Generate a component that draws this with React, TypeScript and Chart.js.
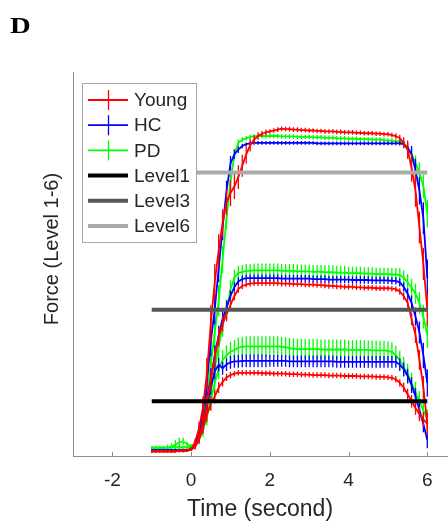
import React, { useEffect, useRef } from "react";
import { Chart, registerables } from "chart.js";

Chart.register(...registerables);

// ---------- data ----------
const TIME = [
  -1.0, -0.9, -0.8, -0.7, -0.6, -0.5, -0.4, -0.3, -0.2, -0.1,
  0.0, 0.1, 0.2, 0.3, 0.4, 0.5, 0.6, 0.7, 0.8, 0.9,
  1.0, 1.1, 1.2, 1.3, 1.4, 1.5, 1.6, 1.7, 1.8, 1.9,
  2.0, 2.1, 2.2, 2.3, 2.4, 2.5, 2.6, 2.7, 2.8, 2.9,
  3.0, 3.1, 3.2, 3.3, 3.4, 3.5, 3.6, 3.7, 3.8, 3.9,
  4.0, 4.1, 4.2, 4.3, 4.4, 4.5, 4.6, 4.7, 4.8, 4.9,
  5.0, 5.1, 5.2, 5.3, 5.4, 5.5, 5.6, 5.7, 5.8, 5.9,
  6.0,
];

const X_TICKS = [-2, 0, 2, 4, 6];
const GROUP_NAMES = ["Young", "HC", "PD"];
const GROUP_COLORS = ["#ff0000", "#0000ff", "#00ff00"];
const LEVEL_NAMES = ["Level1", "Level3", "Level6"];
const LEVEL_VALUES = [1, 3, 6];
const LEVEL_COLORS = ["#000000", "#555555", "#aaaaaa"];
const LEVEL_SPAN = [-1, 6];

// Level 6
const YOUNG_L6 = [
  -0.10, -0.10, -0.10, -0.10, -0.10, -0.10, -0.10, -0.09, -0.09, -0.08,
  -0.05, 0.10, 0.40, 0.85, 1.60, 2.70, 3.60, 4.30, 4.90, 5.35,
  5.55, 5.70, 5.90, 6.15, 6.40, 6.60, 6.72, 6.80, 6.85, 6.88,
  6.90, 6.92, 6.94, 6.96, 6.95, 6.95, 6.94, 6.94, 6.93, 6.93,
  6.92, 6.92, 6.91, 6.91, 6.90, 6.90, 6.90, 6.89, 6.89, 6.88,
  6.88, 6.88, 6.87, 6.87, 6.86, 6.86, 6.86, 6.85, 6.85, 6.84,
  6.84, 6.82, 6.80, 6.75, 6.65, 6.50, 6.10, 5.60, 4.80, 4.00,
  3.00,
];
const YOUNG_L6_ERR = [
  0.03, 0.03, 0.03, 0.03, 0.03, 0.03, 0.03, 0.03, 0.03, 0.03,
  0.03, 0.08, 0.15, 0.25, 0.35, 0.40, 0.40, 0.35, 0.30, 0.28,
  0.28, 0.28, 0.26, 0.24, 0.20, 0.14, 0.10, 0.08, 0.06, 0.06,
  0.05, 0.05, 0.05, 0.05, 0.05, 0.05, 0.05, 0.05, 0.05, 0.05,
  0.05, 0.05, 0.05, 0.05, 0.05, 0.05, 0.05, 0.05, 0.05, 0.05,
  0.05, 0.05, 0.05, 0.05, 0.05, 0.05, 0.05, 0.05, 0.05, 0.05,
  0.05, 0.05, 0.06, 0.08, 0.12, 0.20, 0.30, 0.35, 0.35, 0.35,
  0.35,
];
const HC_L6 = [
  -0.08, -0.08, -0.08, -0.08, -0.08, -0.08, -0.08, -0.08, -0.07, -0.07,
  -0.05, 0.05, 0.30, 0.75, 1.40, 2.30, 3.00, 3.90, 4.80, 5.60,
  6.20, 6.40, 6.50, 6.58, 6.62, 6.64, 6.65, 6.65, 6.65, 6.65,
  6.65, 6.65, 6.65, 6.65, 6.65, 6.65, 6.65, 6.65, 6.65, 6.65,
  6.65, 6.65, 6.64, 6.64, 6.64, 6.64, 6.64, 6.64, 6.64, 6.64,
  6.64, 6.64, 6.64, 6.64, 6.64, 6.64, 6.64, 6.64, 6.64, 6.64,
  6.64, 6.64, 6.64, 6.64, 6.62, 6.55, 6.40, 6.05, 5.60, 5.00,
  3.70,
];
const HC_L6_ERR = [
  0.02, 0.02, 0.02, 0.02, 0.02, 0.02, 0.02, 0.02, 0.02, 0.02,
  0.03, 0.06, 0.12, 0.20, 0.28, 0.32, 0.32, 0.30, 0.28, 0.22,
  0.16, 0.10, 0.07, 0.05, 0.04, 0.04, 0.04, 0.04, 0.04, 0.04,
  0.04, 0.04, 0.04, 0.04, 0.04, 0.04, 0.04, 0.04, 0.04, 0.04,
  0.04, 0.04, 0.04, 0.04, 0.04, 0.04, 0.04, 0.04, 0.04, 0.04,
  0.04, 0.04, 0.04, 0.04, 0.04, 0.04, 0.04, 0.04, 0.04, 0.04,
  0.04, 0.04, 0.04, 0.05, 0.06, 0.10, 0.18, 0.25, 0.30, 0.35,
  0.40,
];
const PD_L6 = [
  -0.02, -0.02, -0.02, -0.02, -0.02, -0.01, -0.01, -0.01, -0.01, -0.01,
  0.00, 0.05, 0.25, 0.60, 1.10, 1.80, 2.50, 3.20, 4.10, 5.00,
  5.80, 6.40, 6.65, 6.72, 6.75, 6.78, 6.79, 6.80, 6.80, 6.80,
  6.80, 6.80, 6.80, 6.79, 6.79, 6.79, 6.79, 6.78, 6.78, 6.78,
  6.78, 6.77, 6.77, 6.77, 6.76, 6.76, 6.76, 6.75, 6.75, 6.75,
  6.74, 6.74, 6.74, 6.73, 6.73, 6.73, 6.72, 6.72, 6.72, 6.71,
  6.70, 6.70, 6.69, 6.68, 6.62, 6.50, 6.40, 6.20, 6.00, 5.70,
  5.10,
];
const PD_L6_ERR = [
  0.03, 0.03, 0.03, 0.03, 0.03, 0.03, 0.03, 0.03, 0.03, 0.03,
  0.03, 0.06, 0.12, 0.20, 0.28, 0.32, 0.34, 0.34, 0.30, 0.25,
  0.20, 0.12, 0.08, 0.06, 0.05, 0.05, 0.05, 0.05, 0.05, 0.05,
  0.05, 0.05, 0.05, 0.05, 0.05, 0.05, 0.05, 0.05, 0.05, 0.05,
  0.05, 0.05, 0.05, 0.05, 0.05, 0.05, 0.05, 0.05, 0.05, 0.05,
  0.05, 0.05, 0.05, 0.05, 0.05, 0.05, 0.05, 0.05, 0.05, 0.05,
  0.05, 0.05, 0.05, 0.06, 0.08, 0.10, 0.14, 0.18, 0.22, 0.25,
  0.30,
];

// Level 3
const YOUNG_L3 = [
  -0.10, -0.10, -0.10, -0.10, -0.10, -0.10, -0.10, -0.09, -0.09, -0.08,
  -0.06, 0.00, 0.20, 0.50, 0.95, 1.45, 1.95, 2.40, 2.70, 2.90,
  3.10, 3.30, 3.45, 3.52, 3.55, 3.57, 3.58, 3.58, 3.58, 3.58,
  3.58, 3.58, 3.58, 3.57, 3.57, 3.57, 3.56, 3.56, 3.56, 3.55,
  3.55, 3.55, 3.54, 3.54, 3.53, 3.52, 3.52, 3.51, 3.51, 3.50,
  3.50, 3.50, 3.49, 3.49, 3.48, 3.48, 3.48, 3.47, 3.47, 3.47,
  3.47, 3.46, 3.45, 3.40, 3.30, 3.15, 2.80, 2.45, 1.90, 1.30,
  0.50,
];
const YOUNG_L3_ERR = [
  0.03, 0.03, 0.03, 0.03, 0.03, 0.03, 0.03, 0.03, 0.03, 0.03,
  0.03, 0.05, 0.10, 0.15, 0.20, 0.22, 0.22, 0.20, 0.18, 0.15,
  0.12, 0.10, 0.08, 0.07, 0.06, 0.06, 0.06, 0.06, 0.06, 0.06,
  0.06, 0.06, 0.06, 0.06, 0.06, 0.06, 0.06, 0.06, 0.06, 0.06,
  0.06, 0.06, 0.06, 0.06, 0.06, 0.06, 0.06, 0.06, 0.06, 0.06,
  0.06, 0.06, 0.06, 0.06, 0.06, 0.06, 0.06, 0.06, 0.06, 0.06,
  0.06, 0.06, 0.06, 0.07, 0.08, 0.10, 0.14, 0.18, 0.22, 0.25,
  0.25,
];
const HC_L3 = [
  -0.08, -0.08, -0.08, -0.08, -0.08, -0.08, -0.08, -0.08, -0.07, -0.07,
  -0.05, 0.02, 0.20, 0.50, 1.00, 1.50, 2.00, 2.45, 2.80, 3.05,
  3.30, 3.50, 3.62, 3.67, 3.69, 3.69, 3.69, 3.69, 3.69, 3.69,
  3.69, 3.69, 3.69, 3.68, 3.68, 3.68, 3.68, 3.68, 3.68, 3.68,
  3.68, 3.67, 3.67, 3.67, 3.67, 3.66, 3.66, 3.66, 3.66, 3.66,
  3.66, 3.65, 3.65, 3.65, 3.65, 3.65, 3.64, 3.64, 3.64, 3.64,
  3.64, 3.63, 3.63, 3.60, 3.50, 3.35, 3.15, 2.85, 2.50, 2.00,
  1.40,
];
const HC_L3_ERR = [
  0.02, 0.02, 0.02, 0.02, 0.02, 0.02, 0.02, 0.02, 0.02, 0.02,
  0.03, 0.05, 0.10, 0.15, 0.20, 0.22, 0.22, 0.20, 0.18, 0.15,
  0.12, 0.10, 0.09, 0.08, 0.08, 0.08, 0.08, 0.08, 0.08, 0.08,
  0.08, 0.08, 0.08, 0.08, 0.08, 0.08, 0.08, 0.08, 0.08, 0.08,
  0.08, 0.08, 0.08, 0.08, 0.08, 0.08, 0.08, 0.08, 0.08, 0.08,
  0.08, 0.08, 0.08, 0.08, 0.08, 0.08, 0.08, 0.08, 0.08, 0.08,
  0.08, 0.08, 0.08, 0.09, 0.10, 0.12, 0.16, 0.20, 0.24, 0.28,
  0.30,
];
const PD_L3 = [
  -0.02, -0.02, -0.02, -0.02, -0.02, -0.01, -0.01, -0.01, -0.01, -0.01,
  0.00, 0.05, 0.20, 0.45, 0.80, 1.20, 1.70, 2.20, 2.65, 3.00,
  3.45, 3.70, 3.80, 3.83, 3.85, 3.85, 3.86, 3.86, 3.86, 3.86,
  3.86, 3.86, 3.86, 3.85, 3.85, 3.85, 3.85, 3.84, 3.84, 3.84,
  3.84, 3.83, 3.83, 3.83, 3.82, 3.82, 3.82, 3.81, 3.81, 3.81,
  3.80, 3.80, 3.80, 3.80, 3.79, 3.79, 3.79, 3.78, 3.78, 3.78,
  3.78, 3.77, 3.77, 3.76, 3.70, 3.60, 3.48, 3.35, 3.15, 2.85,
  2.45,
];
const PD_L3_ERR = [
  0.03, 0.03, 0.03, 0.03, 0.03, 0.03, 0.03, 0.03, 0.03, 0.03,
  0.03, 0.05, 0.10, 0.15, 0.20, 0.24, 0.26, 0.26, 0.24, 0.22,
  0.20, 0.18, 0.16, 0.15, 0.15, 0.15, 0.15, 0.15, 0.15, 0.15,
  0.15, 0.15, 0.15, 0.15, 0.15, 0.15, 0.15, 0.15, 0.15, 0.15,
  0.15, 0.15, 0.15, 0.15, 0.15, 0.15, 0.15, 0.15, 0.15, 0.15,
  0.14, 0.14, 0.14, 0.14, 0.14, 0.14, 0.14, 0.14, 0.14, 0.14,
  0.14, 0.14, 0.14, 0.15, 0.16, 0.18, 0.20, 0.22, 0.24, 0.26,
  0.28,
];

// Level 1
const YOUNG_L1 = [
  -0.10, -0.10, -0.10, -0.10, -0.10, -0.10, -0.10, -0.09, -0.09, -0.08,
  -0.06, 0.00, 0.15, 0.40, 0.70, 0.95, 1.10, 1.30, 1.42, 1.52,
  1.57, 1.60, 1.62, 1.62, 1.62, 1.62, 1.62, 1.62, 1.61, 1.61,
  1.61, 1.60, 1.60, 1.60, 1.60, 1.59, 1.59, 1.59, 1.58, 1.58,
  1.58, 1.57, 1.57, 1.57, 1.57, 1.56, 1.56, 1.56, 1.56, 1.55,
  1.55, 1.55, 1.55, 1.54, 1.54, 1.54, 1.54, 1.53, 1.53, 1.53,
  1.52, 1.51, 1.48, 1.40, 1.30, 1.15, 1.00, 0.85, 0.72, 0.60,
  0.50,
];
const YOUNG_L1_ERR = [
  0.03, 0.03, 0.03, 0.03, 0.03, 0.03, 0.03, 0.03, 0.03, 0.03,
  0.03, 0.05, 0.08, 0.12, 0.15, 0.16, 0.15, 0.12, 0.10, 0.08,
  0.07, 0.06, 0.06, 0.06, 0.06, 0.06, 0.06, 0.06, 0.06, 0.06,
  0.06, 0.06, 0.06, 0.06, 0.06, 0.06, 0.06, 0.06, 0.06, 0.06,
  0.06, 0.06, 0.06, 0.06, 0.06, 0.06, 0.06, 0.06, 0.06, 0.06,
  0.06, 0.06, 0.06, 0.06, 0.06, 0.06, 0.06, 0.06, 0.06, 0.06,
  0.06, 0.06, 0.07, 0.08, 0.10, 0.12, 0.14, 0.15, 0.16, 0.16,
  0.16,
];
const HC_L1 = [
  -0.08, -0.08, -0.08, -0.08, -0.08, -0.08, -0.08, -0.08, -0.07, -0.07,
  -0.05, 0.02, 0.20, 0.50, 0.90, 1.30, 1.65, 1.80, 1.72, 1.80,
  1.85, 1.87, 1.87, 1.88, 1.88, 1.88, 1.88, 1.88, 1.88, 1.88,
  1.88, 1.88, 1.88, 1.88, 1.88, 1.87, 1.87, 1.87, 1.87, 1.87,
  1.87, 1.87, 1.87, 1.87, 1.87, 1.87, 1.87, 1.86, 1.86, 1.86,
  1.86, 1.86, 1.86, 1.86, 1.86, 1.86, 1.86, 1.86, 1.86, 1.86,
  1.86, 1.86, 1.86, 1.80, 1.70, 1.55, 1.35, 1.10, 0.80, 0.50,
  0.15,
];
const HC_L1_ERR = [
  0.02, 0.02, 0.02, 0.02, 0.02, 0.02, 0.02, 0.02, 0.02, 0.02,
  0.03, 0.05, 0.08, 0.12, 0.15, 0.16, 0.16, 0.15, 0.14, 0.14,
  0.14, 0.14, 0.14, 0.14, 0.14, 0.14, 0.14, 0.14, 0.14, 0.14,
  0.13, 0.13, 0.13, 0.13, 0.13, 0.13, 0.13, 0.13, 0.13, 0.13,
  0.13, 0.13, 0.13, 0.13, 0.13, 0.13, 0.13, 0.13, 0.13, 0.13,
  0.13, 0.13, 0.13, 0.13, 0.13, 0.13, 0.13, 0.13, 0.13, 0.13,
  0.13, 0.13, 0.13, 0.14, 0.15, 0.16, 0.17, 0.18, 0.18, 0.18,
  0.18,
];
const PD_L1 = [
  -0.02, -0.02, -0.02, -0.02, -0.01, 0.00, 0.05, 0.10, 0.12, 0.06,
  0.02, 0.05, 0.15, 0.35, 0.65, 1.00, 1.40, 1.70, 1.90, 2.00,
  2.08, 2.12, 2.17, 2.19, 2.20, 2.20, 2.20, 2.20, 2.20, 2.20,
  2.20, 2.20, 2.20, 2.19, 2.18, 2.16, 2.15, 2.14, 2.14, 2.14,
  2.14, 2.14, 2.14, 2.13, 2.13, 2.13, 2.13, 2.13, 2.13, 2.13,
  2.12, 2.12, 2.12, 2.12, 2.12, 2.12, 2.11, 2.11, 2.11, 2.11,
  2.10, 2.08, 2.00, 1.90, 1.75, 1.60, 1.40, 1.20, 1.00, 0.80,
  0.60,
];
const PD_L1_ERR = [
  0.03, 0.03, 0.03, 0.04, 0.06, 0.08, 0.10, 0.10, 0.08, 0.05,
  0.04, 0.06, 0.10, 0.14, 0.18, 0.20, 0.22, 0.22, 0.22, 0.22,
  0.22, 0.22, 0.22, 0.22, 0.22, 0.22, 0.22, 0.22, 0.22, 0.22,
  0.22, 0.22, 0.22, 0.22, 0.22, 0.22, 0.22, 0.22, 0.22, 0.22,
  0.22, 0.22, 0.22, 0.22, 0.22, 0.22, 0.22, 0.22, 0.22, 0.22,
  0.21, 0.21, 0.21, 0.21, 0.21, 0.21, 0.21, 0.21, 0.21, 0.21,
  0.21, 0.21, 0.21, 0.21, 0.22, 0.22, 0.22, 0.22, 0.22, 0.22,
  0.22,
];

const SERIES = [
  // [group index, values, errors]
  [0, YOUNG_L1, YOUNG_L1_ERR], [0, YOUNG_L3, YOUNG_L3_ERR], [0, YOUNG_L6, YOUNG_L6_ERR],
  [1, HC_L1, HC_L1_ERR], [1, HC_L3, HC_L3_ERR], [1, HC_L6, HC_L6_ERR],
  [2, PD_L1, PD_L1_ERR], [2, PD_L3, PD_L3_ERR], [2, PD_L6, PD_L6_ERR],
] as const;

// ---------- styles ----------
const FONT = "'Liberation Sans', Arial, Helvetica, sans-serif";
const TEXT = "#262626";
const AXIS = "#8c8c8c";

const errorBarPlugin = {
  id: "errorBars",
  beforeDatasetDraw(chart: any, args: any) {
    const ds = chart.data.datasets[args.index];
    if (!ds.errors) return;
    const { ctx, chartArea } = chart;
    const x = chart.scales.x;
    const y = chart.scales.y;
    ctx.save();
    ctx.beginPath();
    ctx.rect(chartArea.left, chartArea.top, chartArea.right - chartArea.left, chartArea.bottom - chartArea.top);
    ctx.clip();
    ctx.strokeStyle = ds.borderColor;
    ctx.lineWidth = 1.3;
    ctx.beginPath();
    ds.data.forEach((p: any, i: number) => {
      const e = ds.errors[i];
      const px = x.getPixelForValue(p.x);
      ctx.moveTo(px, y.getPixelForValue(p.y - e));
      ctx.lineTo(px, y.getPixelForValue(p.y + e));
    });
    ctx.stroke();
    ctx.restore();
  },
};

const decorPlugin = {
  id: "decor",
  afterDraw(chart: any) {
    const { ctx, chartArea } = chart;
    const x = chart.scales.x;
    ctx.save();

    // inward tick marks on the x axis
    ctx.strokeStyle = AXIS;
    ctx.lineWidth = 1;
    ctx.beginPath();
    X_TICKS.forEach((t) => {
      const px = Math.round(x.getPixelForValue(t)) + 0.5;
      ctx.moveTo(px, chartArea.bottom);
      ctx.lineTo(px, chartArea.bottom - 4);
    });
    ctx.stroke();

    // panel letter
    ctx.fillStyle = "#000";
    ctx.save();
    ctx.translate(10, 33);
    ctx.scale(1.25, 1);
    ctx.font = "bold 23px 'Liberation Serif', 'Times New Roman', serif";
    ctx.textBaseline = "alphabetic";
    ctx.textAlign = "left";
    ctx.fillText("D", 0, 0);
    ctx.restore();

    // axis titles
    ctx.fillStyle = TEXT;
    ctx.font = `23px ${FONT}`;
    ctx.textAlign = "center";
    ctx.textBaseline = "alphabetic";
    ctx.fillText("Time (second)", (chartArea.left + chartArea.right) / 2, 516);

    ctx.save();
    ctx.translate(57.5, 249);
    ctx.rotate(-Math.PI / 2);
    ctx.font = `20px ${FONT}`;
    ctx.fillText("Force (Level 1-6)", 0, 0);
    ctx.restore();

    // legend
    const bx = 82.5, by = 83.5, bw = 114, bh = 159;
    ctx.fillStyle = "#fff";
    ctx.fillRect(bx, by, bw, bh);
    ctx.strokeStyle = "#a6a6a6";
    ctx.lineWidth = 1;
    ctx.strokeRect(bx, by, bw, bh);
    const items = [
      ...GROUP_NAMES.map((n, i) => ({ label: n, color: GROUP_COLORS[i], err: true })),
      ...LEVEL_NAMES.map((n, i) => ({ label: n, color: LEVEL_COLORS[i], err: false })),
    ];
    ctx.font = `19px ${FONT}`;
    ctx.textAlign = "left";
    ctx.textBaseline = "middle";
    items.forEach((it, i) => {
      const cy = 100 + i * 25.2;
      ctx.strokeStyle = it.color;
      ctx.lineWidth = it.err ? 1.8 : 4;
      ctx.beginPath();
      ctx.moveTo(88, cy);
      ctx.lineTo(128, cy);
      ctx.stroke();
      if (it.err) {
        ctx.lineWidth = 1.3;
        ctx.beginPath();
        ctx.moveTo(108.5, cy - 10);
        ctx.lineTo(108.5, cy + 10);
        ctx.stroke();
      }
      ctx.fillStyle = TEXT;
      ctx.fillText(it.label, 134, cy + 1);
    });

    ctx.restore();
  },
};

export default function App() {
  const ref = useRef<HTMLCanvasElement>(null);

  useEffect(() => {
    const levelSets = LEVEL_VALUES.map((v, i) => ({
      label: LEVEL_NAMES[i],
      data: LEVEL_SPAN.map((t) => ({ x: t, y: v })),
      borderColor: LEVEL_COLORS[i],
      backgroundColor: LEVEL_COLORS[i],
      borderWidth: 4,
      pointRadius: 0,
    }));
    const seriesSets = SERIES.map(([g, vals, errs]) => ({
      label: GROUP_NAMES[g],
      data: TIME.map((t, i) => ({ x: t, y: vals[i] })),
      errors: errs,
      borderColor: GROUP_COLORS[g],
      backgroundColor: GROUP_COLORS[g],
      borderWidth: 1.8,
      pointRadius: 0,
      tension: 0,
    }));

    const chart = new Chart(ref.current as HTMLCanvasElement, {
      type: "line",
      data: { datasets: [...levelSets, ...seriesSets] as any },
      options: {
        animation: false,
        responsive: false,
        devicePixelRatio: 1,
        layout: { padding: { top: 72, right: 1, left: 0, bottom: 0 } },
        plugins: { legend: { display: false }, tooltip: { enabled: false } },
        scales: {
          x: {
            type: "linear",
            min: -3,
            max: 6.5,
            afterBuildTicks: (s: any) => {
              s.ticks = X_TICKS.map((v) => ({ value: v }));
            },
            afterFit: (s: any) => {
              s.height = 71;
            },
            grid: { display: false, drawTicks: false },
            border: { display: true, color: AXIS, width: 1 },
            ticks: {
              autoSkip: false,
              maxRotation: 0,
              padding: 13,
              color: TEXT,
              font: { family: FONT, size: 19 },
              callback: (v: any) => String(v),
            },
          },
          y: {
            type: "linear",
            min: -0.2,
            max: 8.2,
            afterFit: (s: any) => {
              s.width = 73;
            },
            grid: { display: false, drawTicks: false },
            border: { display: true, color: AXIS, width: 1 },
            ticks: { display: false },
          },
        },
      } as any,
      plugins: [errorBarPlugin, decorPlugin],
    });
    return () => chart.destroy();
  }, []);

  return (
    <div style={{ position: "absolute", left: 0, top: 0, width: 448, height: 527, background: "#fff" }}>
      <canvas ref={ref} width={448} height={527} style={{ display: "block", width: 448, height: 527 }} />
    </div>
  );
}
